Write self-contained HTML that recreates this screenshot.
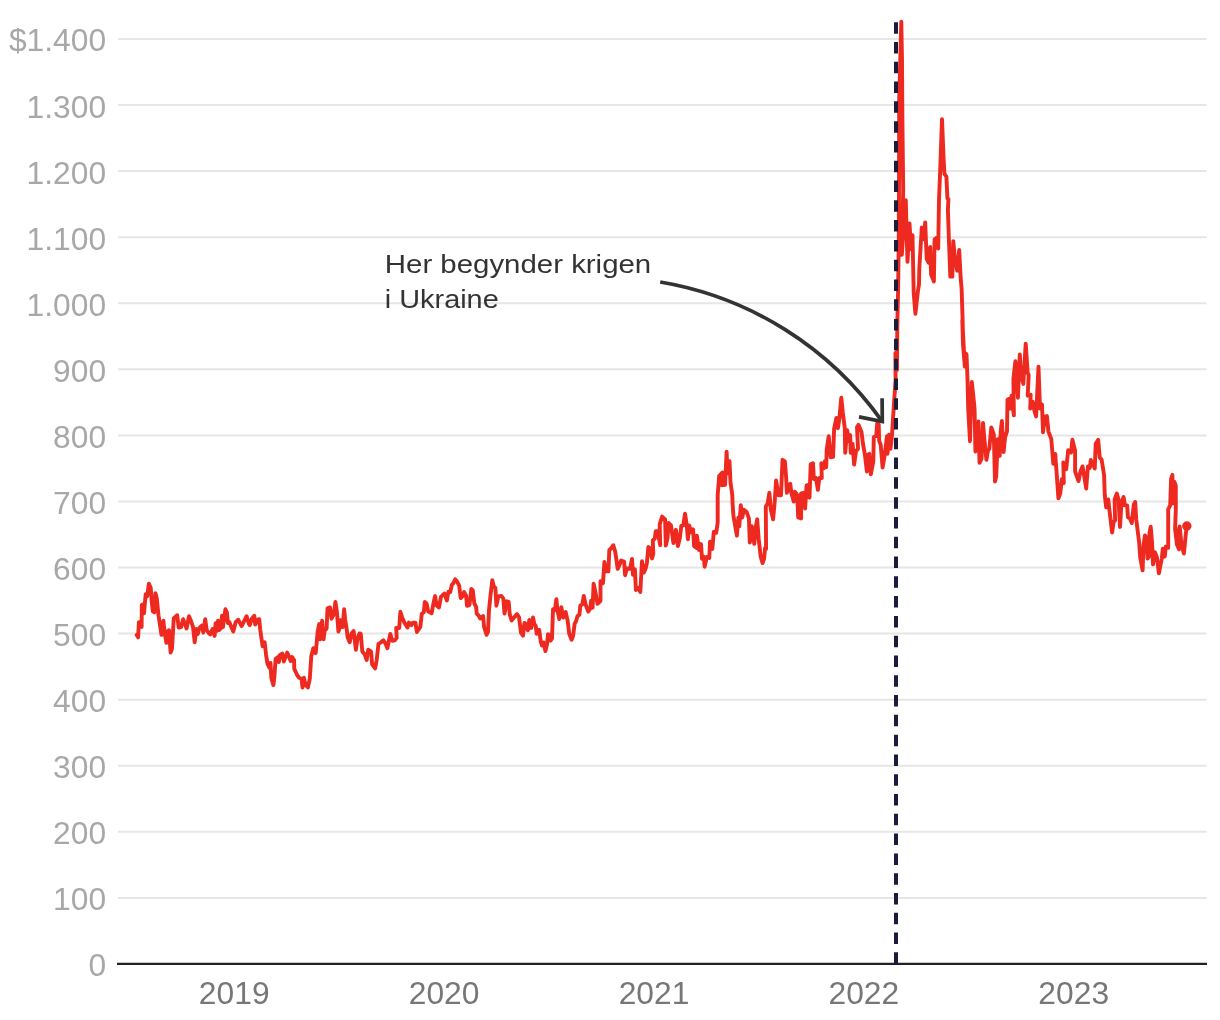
<!DOCTYPE html>
<html><head><meta charset="utf-8"><title>Chart</title>
<style>
html,body{margin:0;padding:0;background:#fff;}
svg{display:block;font-family:"Liberation Sans",sans-serif;}
.yl{font-size:30px;fill:#a8a8a8;letter-spacing:0px;}
.xl{font-size:30px;fill:#777;letter-spacing:0px;}
.an{font-size:26.5px;fill:#333;letter-spacing:0px;}
</style></head><body>
<svg width="1220" height="1020" viewBox="0 0 1220 1020">
<rect width="1220" height="1020" fill="#fff"/>
<line x1="118" x2="1206.5" y1="39.0" y2="39.0" stroke="#e6e6e6" stroke-width="2"/>
<line x1="118" x2="1206.5" y1="105.1" y2="105.1" stroke="#e6e6e6" stroke-width="2"/>
<line x1="118" x2="1206.5" y1="171.1" y2="171.1" stroke="#e6e6e6" stroke-width="2"/>
<line x1="118" x2="1206.5" y1="237.2" y2="237.2" stroke="#e6e6e6" stroke-width="2"/>
<line x1="118" x2="1206.5" y1="303.3" y2="303.3" stroke="#e6e6e6" stroke-width="2"/>
<line x1="118" x2="1206.5" y1="369.3" y2="369.3" stroke="#e6e6e6" stroke-width="2"/>
<line x1="118" x2="1206.5" y1="435.4" y2="435.4" stroke="#e6e6e6" stroke-width="2"/>
<line x1="118" x2="1206.5" y1="501.5" y2="501.5" stroke="#e6e6e6" stroke-width="2"/>
<line x1="118" x2="1206.5" y1="567.6" y2="567.6" stroke="#e6e6e6" stroke-width="2"/>
<line x1="118" x2="1206.5" y1="633.6" y2="633.6" stroke="#e6e6e6" stroke-width="2"/>
<line x1="118" x2="1206.5" y1="699.7" y2="699.7" stroke="#e6e6e6" stroke-width="2"/>
<line x1="118" x2="1206.5" y1="765.8" y2="765.8" stroke="#e6e6e6" stroke-width="2"/>
<line x1="118" x2="1206.5" y1="831.8" y2="831.8" stroke="#e6e6e6" stroke-width="2"/>
<line x1="118" x2="1206.5" y1="897.9" y2="897.9" stroke="#e6e6e6" stroke-width="2"/>

<text transform="translate(106.1,51.4) scale(1.06,1.02)" text-anchor="end" class="yl">$1.400</text>
<text transform="translate(106.1,117.5) scale(1.06,1.02)" text-anchor="end" class="yl">1.300</text>
<text transform="translate(106.1,183.5) scale(1.06,1.02)" text-anchor="end" class="yl">1.200</text>
<text transform="translate(106.1,249.6) scale(1.06,1.02)" text-anchor="end" class="yl">1.100</text>
<text transform="translate(106.1,315.7) scale(1.06,1.02)" text-anchor="end" class="yl">1.000</text>
<text transform="translate(106.1,381.7) scale(1.06,1.02)" text-anchor="end" class="yl">900</text>
<text transform="translate(106.1,447.8) scale(1.06,1.02)" text-anchor="end" class="yl">800</text>
<text transform="translate(106.1,513.9) scale(1.06,1.02)" text-anchor="end" class="yl">700</text>
<text transform="translate(106.1,580.0) scale(1.06,1.02)" text-anchor="end" class="yl">600</text>
<text transform="translate(106.1,646.0) scale(1.06,1.02)" text-anchor="end" class="yl">500</text>
<text transform="translate(106.1,712.1) scale(1.06,1.02)" text-anchor="end" class="yl">400</text>
<text transform="translate(106.1,778.2) scale(1.06,1.02)" text-anchor="end" class="yl">300</text>
<text transform="translate(106.1,844.2) scale(1.06,1.02)" text-anchor="end" class="yl">200</text>
<text transform="translate(106.1,910.3) scale(1.06,1.02)" text-anchor="end" class="yl">100</text>
<text transform="translate(106.1,976.4) scale(1.06,1.02)" text-anchor="end" class="yl">0</text>

<text transform="translate(234.2,1004.4) scale(1.06,1.02)" text-anchor="middle" class="xl">2019</text>
<text transform="translate(444.1,1004.4) scale(1.06,1.02)" text-anchor="middle" class="xl">2020</text>
<text transform="translate(654.0,1004.4) scale(1.06,1.02)" text-anchor="middle" class="xl">2021</text>
<text transform="translate(863.8,1004.4) scale(1.06,1.02)" text-anchor="middle" class="xl">2022</text>
<text transform="translate(1073.7,1004.4) scale(1.06,1.02)" text-anchor="middle" class="xl">2023</text>

<path d="M136.7,634.9 L138.1,637.4 L138.9,622.1 L140.3,622.6 L141.6,627.0 L141.8,604.9 L143.3,604.4 L144.0,613.3 L145.7,594.1 L147.2,596.1 L148.9,583.8 L150.7,587.7 L151.8,602.5 L152.8,611.3 L154.3,612.3 L155.4,593.1 L156.8,598.5 L158.5,615.2 L160.0,625.1 L161.5,634.9 L163.4,620.7 L164.4,631.0 L166.4,642.8 L167.9,631.0 L169.0,630.2 L170.6,652.6 L172.0,648.7 L173.8,618.2 L175.2,617.2 L177.2,615.2 L178.7,627.5 L181.1,627.0 L183.1,619.2 L184.6,623.1 L186.6,628.5 L189.0,616.2 L191.0,621.1 L193.0,627.0 L194.7,642.3 L196.1,629.0 L197.9,633.9 L199.3,628.0 L201.8,625.6 L203.3,632.5 L205.2,619.2 L206.7,630.0 L208.7,633.0 L210.2,634.4 L212.6,629.0 L214.6,635.9 L215.6,623.1 L216.6,631.0 L218.0,620.7 L219.0,630.0 L221.0,628.0 L222.0,615.7 L223.0,627.0 L225.4,609.3 L226.9,612.3 L227.9,623.1 L229.3,622.1 L231.3,627.0 L233.3,631.5 L235.7,622.1 L238.2,619.7 L241.6,626.1 L244.1,621.1 L246.6,616.2 L249.0,624.1 L249.8,625.1 L251.8,618.7 L254.3,615.7 L255.2,624.6 L257.7,619.7 L259.2,619.2 L260.2,629.5 L262.6,646.2 L264.6,642.3 L266.1,655.1 L267.5,663.9 L269.5,667.9 L270.5,663.0 L271.3,677.7 L273.4,685.1 L274.4,676.7 L275.6,659.0 L277.9,657.0 L278.9,662.0 L279.8,655.1 L282.3,653.6 L283.8,661.5 L285.2,658.0 L287.2,652.6 L289.2,657.0 L290.7,661.0 L292.1,657.0 L294.1,660.0 L294.3,668.9 L297.0,674.8 L299.0,677.7 L301.5,678.7 L302.5,687.5 L303.9,677.7 L305.4,684.6 L307.9,687.5 L309.8,678.7 L311.3,656.1 L313.3,648.2 L315.7,653.1 L317.7,631.5 L319.2,624.1 L320.2,639.3 L322.1,620.7 L323.6,639.3 L324.6,630.5 L326.6,628.5 L327.5,608.4 L330.0,607.4 L331.5,618.7 L333.9,613.8 L335.4,602.0 L336.9,611.8 L338.4,631.5 L339.8,627.5 L340.3,620.2 L342.8,627.0 L344.1,609.3 L345.2,619.7 L346.7,629.5 L347.7,637.4 L349.7,642.3 L351.6,633.4 L353.6,631.0 L355.9,649.7 L357.5,638.4 L359.5,633.4 L360.8,633.9 L362.3,651.6 L364.8,654.6 L366.7,660.0 L368.2,649.7 L371.1,651.6 L372.1,664.4 L375.1,668.4 L376.6,660.5 L378.5,643.8 L381.0,642.3 L383.4,640.3 L385.4,643.3 L387.4,648.2 L390.3,633.9 L392.3,640.8 L394.8,640.3 L396.7,637.9 L396.2,628.0 L399.2,628.0 L400.4,611.8 L402.1,617.2 L404.1,622.1 L407.5,627.5 L409.0,622.6 L411.5,625.1 L413.0,622.6 L415.4,622.6 L416.9,632.0 L420.3,627.0 L421.8,613.8 L423.8,612.3 L424.8,602.0 L426.7,603.9 L428.2,611.3 L431.6,613.3 L433.6,602.5 L435.1,596.1 L436.6,605.4 L439.0,607.4 L441.0,596.6 L444.4,593.6 L446.9,600.5 L448.4,591.6 L450.3,592.1 L451.8,584.8 L453.3,583.3 L455.2,579.3 L457.2,581.8 L459.2,585.7 L460.7,598.0 L462.6,596.1 L464.1,592.1 L466.1,595.6 L467.0,605.9 L469.5,604.9 L471.3,589.0 L472.8,590.5 L474.3,603.3 L476.2,607.2 L476.7,613.6 L478.7,615.6 L480.2,618.5 L483.1,616.1 L484.1,626.9 L486.6,634.8 L488.0,631.8 L489.0,610.2 L490.5,595.4 L492.3,580.2 L493.9,586.6 L495.4,588.0 L496.4,605.7 L498.4,596.4 L501.3,595.9 L503.3,598.4 L504.5,613.6 L506.7,601.3 L508.7,601.8 L509.7,614.1 L511.6,620.5 L513.6,618.0 L517.0,614.1 L519.0,617.0 L521.0,632.8 L523.0,635.7 L524.4,623.0 L525.9,623.9 L527.9,630.3 L529.3,620.0 L531.3,627.9 L533.0,617.5 L534.3,623.9 L535.7,625.9 L536.7,633.8 L539.2,629.8 L540.7,641.6 L542.1,645.6 L543.6,642.6 L545.4,651.0 L547.0,644.6 L548.0,634.3 L549.5,634.8 L550.5,640.7 L552.0,638.7 L553.0,609.2 L554.9,610.2 L556.4,599.3 L557.4,610.2 L559.3,619.0 L561.3,607.2 L563.3,617.5 L565.7,612.1 L567.7,621.0 L569.2,633.8 L571.6,639.7 L573.1,635.7 L574.6,623.9 L576.1,621.0 L577.5,616.1 L579.5,614.6 L580.3,605.7 L582.3,604.3 L583.8,595.9 L585.7,604.8 L588.2,611.6 L590.2,608.7 L591.1,600.8 L592.6,607.7 L593.6,583.6 L595.6,593.0 L597.5,603.8 L600.5,600.8 L600.5,581.1 L603.0,583.1 L604.4,562.0 L605.9,571.3 L608.4,571.3 L609.3,550.2 L611.3,548.2 L613.3,545.2 L615.2,551.6 L617.7,568.9 L619.7,564.4 L621.1,560.5 L624.1,561.5 L625.1,575.2 L627.0,568.4 L630.0,568.9 L632.0,559.0 L633.0,574.8 L634.9,569.3 L635.9,590.0 L638.4,588.0 L640.3,592.0 L642.0,561.3 L643.9,572.6 L645.9,567.7 L646.9,562.8 L648.4,547.0 L649.8,548.0 L652.0,558.4 L653.3,553.9 L652.8,540.2 L654.8,538.7 L655.7,531.3 L657.7,531.3 L660.2,545.1 L659.7,524.4 L662.1,516.6 L665.1,519.5 L665.8,545.6 L667.5,538.2 L668.5,523.0 L671.0,525.4 L673.4,543.1 L675.9,529.8 L677.9,546.1 L679.8,538.2 L681.3,525.9 L683.3,525.4 L685.0,513.6 L686.7,524.4 L687.9,539.2 L689.2,525.4 L691.1,532.3 L693.1,529.3 L694.1,546.1 L696.6,548.0 L696.9,535.7 L699.0,550.0 L701.0,544.1 L702.0,558.9 L703.9,556.9 L704.6,566.7 L706.9,556.9 L709.3,557.9 L710.0,541.6 L712.3,549.0 L713.8,531.8 L716.2,532.8 L717.7,522.5 L717.7,494.9 L719.2,475.9 L722.6,472.5 L721.8,485.2 L725.1,484.8 L726.6,451.8 L727.7,473.4 L729.5,461.1 L730.5,482.3 L732.3,495.1 L732.5,501.8 L733.4,515.6 L736.9,535.7 L738.4,517.5 L739.3,526.4 L740.8,505.2 L742.3,517.5 L743.8,509.7 L746.7,512.1 L748.9,518.4 L749.8,542.5 L751.8,526.2 L754.3,543.9 L755.7,527.2 L757.2,519.3 L758.7,539.0 L760.7,556.7 L762.6,563.1 L764.1,558.7 L765.1,547.9 L766.1,548.9 L765.8,506.6 L767.7,503.1 L769.4,492.8 L770.7,509.0 L773.1,519.3 L774.6,503.1 L776.1,480.5 L778.5,495.2 L781.0,495.2 L782.5,459.8 L784.9,461.3 L786.1,477.0 L786.9,492.8 L788.9,484.9 L790.3,483.9 L791.3,492.8 L793.8,501.6 L794.8,491.8 L797.2,494.8 L798.2,517.4 L801.1,518.4 L801.1,493.3 L803.6,492.8 L805.1,508.5 L806.6,485.4 L808.5,484.9 L809.5,497.7 L810.7,464.3 L813.0,463.3 L813.9,479.0 L815.9,478.0 L817.9,489.8 L819.3,478.0 L821.8,478.0 L821.3,463.3 L823.8,468.2 L824.8,461.3 L826.2,467.2 L826.7,449.5 L828.7,436.2 L830.7,457.4 L833.1,456.9 L834.1,428.9 L836.4,417.9 L837.9,428.2 L839.3,419.3 L841.3,397.7 L842.8,412.5 L844.8,428.2 L845.2,452.8 L847.2,430.2 L848.7,441.0 L850.2,435.1 L850.7,452.8 L852.6,443.9 L854.1,464.6 L856.1,450.8 L858.0,448.9 L857.0,427.2 L858.5,424.8 L861.5,432.1 L863.0,443.9 L864.9,454.8 L866.9,471.5 L867.9,454.8 L869.3,453.8 L870.8,474.4 L873.3,461.6 L873.8,437.0 L876.2,436.1 L877.2,423.3 L878.7,424.3 L879.2,441.0 L880.7,444.9 L882.6,467.5 L884.6,455.7 L887.0,436.1 L887.5,453.8 L889.0,434.6 L890.5,448.9 L892.0,435.1 L893.0,419.0 L894.3,399.0 L895.6,380.0 L895.4,353.0 L897.0,370.0 L897.3,325.0 L898.1,290.0 L898.8,237.0 L899.0,190.0 L899.2,100.0 L901.3,21.8 L902.0,60.0 L902.4,120.0 L903.2,190.0 L901.8,254.9 L903.6,229.3 L905.8,200.3 L906.8,239.2 L907.5,261.8 L909.5,223.4 L911.0,249.0 L912.5,235.2 L913.2,268.7 L913.7,292.8 L915.4,313.9 L917.7,292.8 L919.0,284.4 L919.3,268.7 L920.5,249.0 L921.8,227.4 L923.8,239.2 L925.2,222.5 L926.7,258.9 L928.7,262.8 L930.2,247.0 L931.1,274.6 L933.9,281.5 L934.6,239.2 L936.6,237.7 L938.2,248.5 L939.0,199.8 L940.2,170.3 L942.0,119.2 L943.7,160.5 L944.4,173.8 L946.4,176.7 L947.4,198.4 L948.4,198.9 L947.9,209.7 L948.9,239.2 L950.3,276.6 L952.3,276.6 L953.3,241.1 L954.8,257.9 L957.2,270.7 L959.2,250.0 L960.7,278.5 L961.6,288.4 L962.6,319.3 L963.1,341.0 L964.1,354.8 L966.1,353.8 L964.8,366.6 L962.3,320.0 L963.0,344.6 L964.8,366.2 L966.5,354.4 L967.5,379.0 L968.2,408.5 L970.0,441.2 L971.8,382.0 L974.1,403.6 L974.6,409.7 L975.4,451.5 L977.0,445.1 L978.5,421.5 L979.5,462.8 L981.5,458.9 L983.0,423.0 L984.4,439.2 L986.4,459.8 L987.9,451.0 L989.3,449.0 L991.3,427.4 L993.8,434.3 L995.0,481.5 L996.2,476.6 L997.7,439.2 L999.7,455.9 L1000.7,431.3 L1001.9,421.0 L1003.6,452.0 L1005.1,437.2 L1007.0,431.3 L1007.5,399.8 L1009.5,398.7 L1010.5,408.5 L1011.5,395.7 L1013.9,415.4 L1013.4,379.0 L1015.4,361.3 L1017.9,397.7 L1019.8,354.4 L1020.8,373.1 L1023.3,383.9 L1025.7,343.6 L1027.7,373.1 L1028.7,375.1 L1027.7,395.7 L1030.7,394.8 L1030.2,408.5 L1032.6,401.6 L1034.6,411.5 L1036.1,416.4 L1038.5,366.7 L1040.0,408.5 L1042.0,404.6 L1043.0,432.3 L1044.9,416.6 L1046.9,416.1 L1048.4,431.3 L1051.3,439.2 L1053.3,463.8 L1055.2,453.9 L1056.7,473.6 L1058.4,498.4 L1060.3,493.0 L1061.8,479.2 L1063.8,483.1 L1063.3,462.5 L1066.2,469.3 L1067.2,459.5 L1068.2,450.2 L1071.1,452.6 L1072.4,439.8 L1075.1,450.7 L1075.1,471.3 L1078.5,481.1 L1080.5,471.3 L1082.5,466.4 L1084.4,477.2 L1086.2,488.5 L1087.9,466.4 L1089.8,467.9 L1090.8,460.0 L1094.8,468.4 L1095.7,443.8 L1098.2,439.8 L1099.7,457.5 L1101.6,459.5 L1104.1,475.2 L1104.8,495.6 L1106.2,507.4 L1108.2,499.5 L1109.7,512.3 L1112.1,532.5 L1113.6,522.1 L1115.1,520.2 L1114.6,499.5 L1116.8,493.6 L1118.5,499.5 L1120.0,527.0 L1121.5,502.5 L1123.6,497.0 L1124.9,505.4 L1127.2,505.4 L1127.9,517.2 L1129.8,518.2 L1131.8,523.1 L1133.8,504.4 L1135.2,502.0 L1136.2,519.2 L1139.2,542.8 L1140.2,557.5 L1142.6,570.3 L1143.6,544.8 L1144.9,535.4 L1146.6,537.9 L1147.5,558.5 L1149.0,556.6 L1149.5,533.0 L1150.7,526.6 L1152.0,541.8 L1153.0,564.4 L1154.9,552.1 L1156.9,557.5 L1158.9,573.3 L1161.8,558.5 L1162.8,548.7 L1164.8,556.6 L1165.7,546.7 L1168.2,547.7 L1168.2,509.3 L1170.2,505.4 L1171.1,478.9 L1172.4,474.9 L1173.2,503.4 L1174.3,481.8 L1175.8,485.7 L1175.8,509.3 L1175.1,529.0 L1177.0,544.8 L1179.0,549.2 L1178.5,531.0 L1179.7,526.6 L1181.5,544.8 L1183.9,553.6 L1185.9,533.0 L1186.9,526.1" fill="none" stroke="#ee2a20" stroke-width="3.9" stroke-linejoin="round" stroke-linecap="round"/>
<circle cx="1186.8" cy="526" r="4.7" fill="#ee2a20"/>
<line x1="117" x2="1207" y1="963.9" y2="963.9" stroke="#222" stroke-width="2.2"/>
<line x1="896" x2="896" y1="22.2" y2="964" stroke="#1a1c3c" stroke-width="4" stroke-dasharray="11.5 8.29"/>
<text transform="translate(384.8,273.3) scale(1.11,1)" class="an">Her begynder krigen</text>
<text transform="translate(384.8,307.6) scale(1.09,1)" class="an">i Ukraine</text>
<path d="M660.2,282 A341.3,341.3 0 0 1 882.3,421.6" fill="none" stroke="#333" stroke-width="3.7"/>
<path d="M859,416.9 L882.3,421.6 L882.1,398.2" fill="none" stroke="#333" stroke-width="3.7" stroke-linejoin="miter"/>
</svg>
</body></html>
